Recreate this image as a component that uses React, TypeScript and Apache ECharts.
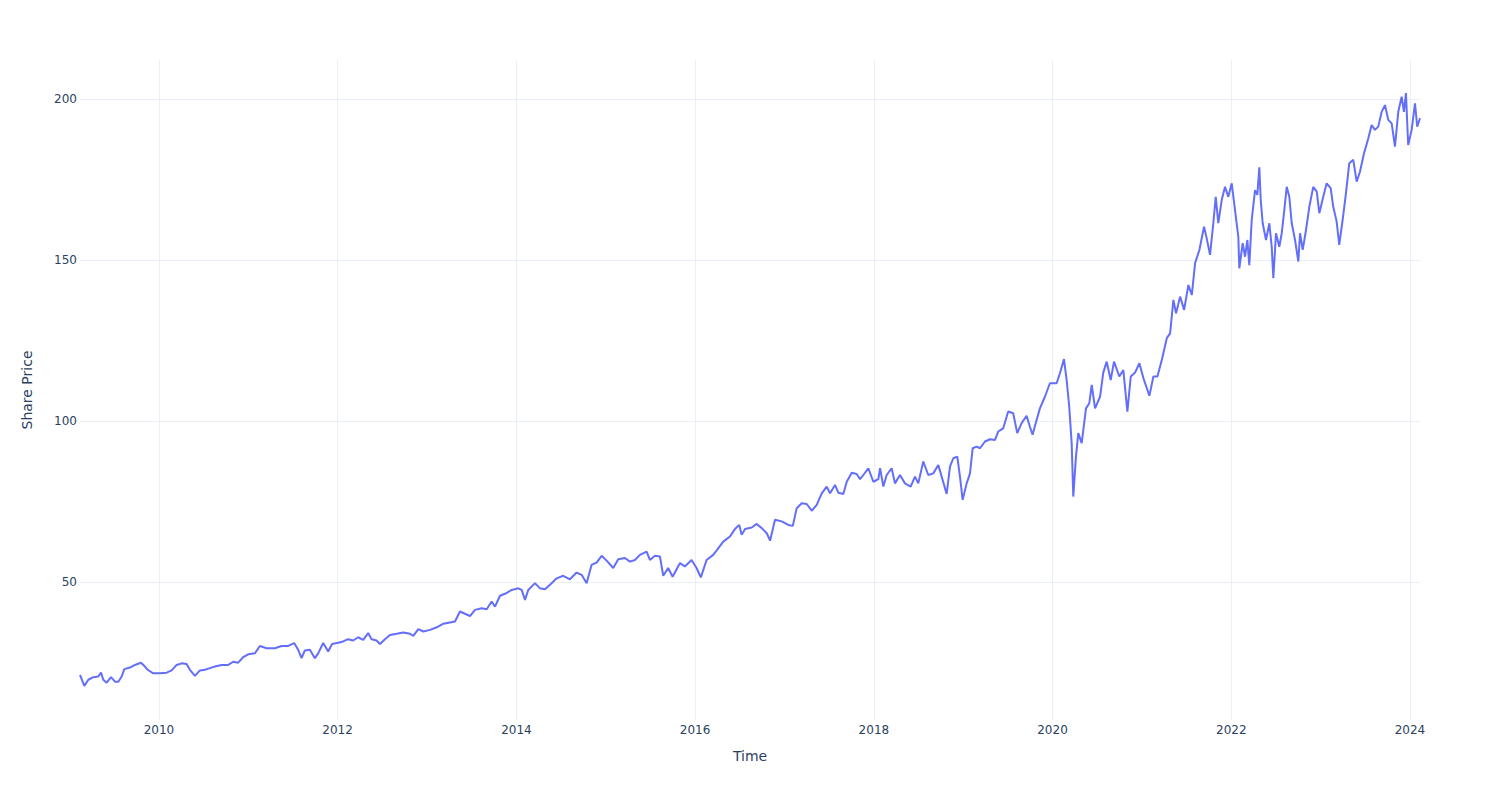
import React, { useEffect, useRef } from "react";
import * as echarts from "echarts";

// Time in fractional years
const TIME = [
  2009.116, 2009.164, 2009.209, 2009.265, 2009.321, 2009.351, 2009.377, 2009.415, 2009.463, 2009.508,
  2009.545, 2009.583, 2009.612, 2009.675, 2009.731, 2009.799, 2009.843, 2009.874, 2009.936, 2010.011,
  2010.086, 2010.142, 2010.198, 2010.254, 2010.310, 2010.347, 2010.403, 2010.459, 2010.515, 2010.571,
  2010.627, 2010.702, 2010.776, 2010.831, 2010.887, 2010.943, 2010.999, 2011.074, 2011.130, 2011.205,
  2011.298, 2011.373, 2011.447, 2011.514, 2011.559, 2011.597, 2011.634, 2011.690, 2011.746, 2011.783,
  2011.839, 2011.895, 2011.939, 2012.006, 2012.062, 2012.118, 2012.174, 2012.230, 2012.286, 2012.342,
  2012.380, 2012.436, 2012.473, 2012.529, 2012.585, 2012.660, 2012.734, 2012.809, 2012.846, 2012.902,
  2012.958, 2013.033, 2013.108, 2013.182, 2013.256, 2013.312, 2013.368, 2013.424, 2013.480, 2013.536,
  2013.611, 2013.667, 2013.723, 2013.760, 2013.816, 2013.872, 2013.947, 2014.021, 2014.059, 2014.096,
  2014.133, 2014.208, 2014.264, 2014.320, 2014.376, 2014.451, 2014.524, 2014.599, 2014.674, 2014.730,
  2014.786, 2014.842, 2014.898, 2014.954, 2015.010, 2015.084, 2015.140, 2015.215, 2015.271, 2015.327,
  2015.383, 2015.458, 2015.495, 2015.551, 2015.607, 2015.644, 2015.699, 2015.749, 2015.830, 2015.886,
  2015.961, 2016.017, 2016.065, 2016.129, 2016.203, 2016.259, 2016.315, 2016.390, 2016.446, 2016.494,
  2016.521, 2016.558, 2016.633, 2016.689, 2016.745, 2016.801, 2016.838, 2016.893, 2016.968, 2017.042,
  2017.092, 2017.136, 2017.192, 2017.248, 2017.304, 2017.360, 2017.416, 2017.472, 2017.509, 2017.565,
  2017.602, 2017.658, 2017.696, 2017.752, 2017.808, 2017.845, 2017.882, 2017.938, 2017.994, 2018.050,
  2018.069, 2018.106, 2018.143, 2018.199, 2018.236, 2018.292, 2018.348, 2018.412, 2018.460, 2018.497,
  2018.553, 2018.609, 2018.665, 2018.721, 2018.759, 2018.815, 2018.852, 2018.889, 2018.934, 2018.964,
  2018.994, 2019.039, 2019.076, 2019.106, 2019.151, 2019.188, 2019.244, 2019.300, 2019.356, 2019.392,
  2019.448, 2019.504, 2019.560, 2019.605, 2019.654, 2019.710, 2019.747, 2019.777, 2019.822, 2019.859,
  2019.915, 2019.971, 2020.046, 2020.083, 2020.128, 2020.158, 2020.187, 2020.214, 2020.232, 2020.262,
  2020.288, 2020.326, 2020.374, 2020.411, 2020.438, 2020.475, 2020.531, 2020.567, 2020.605, 2020.650,
  2020.687, 2020.746, 2020.791, 2020.836, 2020.874, 2020.922, 2020.970, 2021.015, 2021.082, 2021.127,
  2021.172, 2021.221, 2021.277, 2021.314, 2021.351, 2021.381, 2021.426, 2021.471, 2021.519, 2021.557,
  2021.594, 2021.642, 2021.694, 2021.724, 2021.761, 2021.798, 2021.825, 2021.854, 2021.892, 2021.929,
  2021.966, 2022.004, 2022.041, 2022.078, 2022.089, 2022.127, 2022.153, 2022.179, 2022.201, 2022.228,
  2022.265, 2022.291, 2022.313, 2022.329, 2022.351, 2022.388, 2022.425, 2022.452, 2022.470, 2022.500,
  2022.537, 2022.564, 2022.589, 2022.620, 2022.649, 2022.676, 2022.713, 2022.750, 2022.769, 2022.799,
  2022.836, 2022.873, 2022.917, 2022.956, 2022.985, 2023.029, 2023.067, 2023.112, 2023.141, 2023.179,
  2023.208, 2023.246, 2023.283, 2023.320, 2023.365, 2023.403, 2023.440, 2023.485, 2023.533, 2023.571,
  2023.608, 2023.645, 2023.683, 2023.720, 2023.757, 2023.795, 2023.832, 2023.869, 2023.907, 2023.932,
  2023.955, 2023.980, 2024.019, 2024.056, 2024.081, 2024.112,
];

const PRICE = [
  21.1, 17.7, 19.6, 20.4, 20.6, 21.8, 19.6, 18.7, 20.4, 19.0,
  19.0, 20.6, 22.9, 23.4, 24.2, 24.9, 23.7, 22.7, 21.6, 21.6,
  21.8, 22.5, 24.2, 24.7, 24.5, 22.7, 20.8, 22.5, 22.7, 23.2,
  23.7, 24.2, 24.2, 25.2, 24.9, 26.6, 27.5, 27.8, 30.1, 29.4,
  29.4, 30.1, 30.1, 31.0, 28.9, 26.3, 28.7, 28.9, 26.3, 27.8,
  31.0, 28.4, 30.7, 31.1, 31.5, 32.2, 31.8, 32.8, 32.0, 34.1,
  32.2, 31.8, 30.7, 32.2, 33.5, 33.9, 34.3, 33.9, 33.2, 35.3,
  34.6, 35.1, 35.9, 37.0, 37.4, 37.7, 40.8, 40.1, 39.4, 41.3,
  41.8, 41.5, 43.9, 42.3, 45.7, 46.3, 47.5, 48.0, 47.5, 44.4,
  47.5, 49.6, 48.0, 47.7, 49.1, 51.1, 51.9, 50.8, 52.9, 52.2,
  49.6, 55.3, 56.0, 58.1, 56.6, 54.3, 57.0, 57.4, 56.3, 56.8,
  58.4, 59.4, 56.8, 58.1, 57.9, 51.9, 54.3, 51.6, 55.8, 54.8,
  56.8, 54.3, 51.4, 56.8, 58.4, 60.4, 62.5, 64.1, 66.4, 67.7,
  64.6, 66.4, 66.9, 68.0, 66.7, 65.1, 62.8, 69.3, 68.8, 67.7,
  67.4, 72.9, 74.4, 74.2, 72.1, 73.9, 77.5, 79.6, 77.5, 80.1,
  77.7, 77.3, 81.1, 83.9, 83.5, 81.9, 83.2, 85.3, 81.1, 81.9,
  85.3, 79.6, 83.2, 85.3, 80.6, 83.2, 80.6, 79.6, 82.7, 80.6,
  87.4, 83.2, 83.7, 86.3, 82.7, 77.3, 85.8, 88.4, 88.9, 82.7,
  75.5, 80.6, 83.7, 91.5, 92.0, 91.5, 93.6, 94.3, 94.1, 96.7,
  97.7, 102.9, 102.4, 96.2, 99.3, 101.6, 98.2, 95.7, 100.3, 103.9,
  107.5, 111.7, 111.7, 114.8, 119.2, 112.7, 104.4, 93.1, 76.5, 88.9,
  96.2, 93.1, 103.9, 105.5, 111.2, 103.9, 107.5, 115.0, 118.4, 112.7,
  118.4, 113.8, 115.8, 102.9, 113.8, 115.0, 117.9, 113.3, 107.8, 113.8,
  113.8, 118.9, 125.7, 127.2, 137.6, 133.4, 138.6, 134.5, 142.2, 139.1,
  149.0, 153.1, 160.3, 156.7, 151.6, 161.4, 169.6, 161.4, 168.6, 172.7,
  169.6, 173.8, 165.5, 157.2, 147.4, 155.2, 151.0, 156.2, 148.4, 162.4,
  171.7, 170.2, 178.8, 168.6, 161.4, 156.2, 161.4, 154.1, 144.3, 158.3,
  154.1, 158.3, 164.5, 172.7, 169.6, 161.4, 156.2, 149.5, 158.3, 153.1,
  159.3, 166.5, 172.7, 171.2, 164.5, 169.6, 173.8, 172.3, 166.5, 161.9,
  154.7, 162.4, 170.7, 180.0, 181.1, 174.3, 177.4, 183.1, 187.7, 191.9,
  190.4, 191.4, 196.0, 198.1, 193.5, 192.4, 185.2, 196.0, 200.7, 196.0,
  201.8, 185.7, 190.4, 198.6, 191.4, 194.0,
];

const X_TICK_YEARS = [2010, 2012, 2014, 2016, 2018, 2020, 2022, 2024];
const Y_TICKS = [50, 100, 150, 200];
const Y_RANGE = [7.1, 212.1];

const X_TITLE = "Time";
const Y_TITLE = "Share Price";

const FONT = "'DejaVu Sans', Verdana, Arial, sans-serif";
const TEXT_COLOR = "#2a3f5f";
const GRID_COLOR = "#EBF0F8";
const LINE_COLOR = "#636efa";

function yearToMs(y: number): number {
  const yr = Math.floor(y);
  const start = Date.UTC(yr, 0, 1);
  const end = Date.UTC(yr + 1, 0, 1);
  return start + (y - yr) * (end - start);
}

export default function App() {
  const ref = useRef<HTMLDivElement>(null);

  useEffect(() => {
    if (!ref.current) return;
    const chart = echarts.init(ref.current, undefined, { renderer: "svg" });
    const data = TIME.map((t, i) => [yearToMs(t), PRICE[i]]);
    const xTicks = X_TICK_YEARS.map((y) => Date.UTC(y, 0, 1));

    chart.setOption({
      animation: false,
      backgroundColor: "#ffffff",
      grid: { left: 80, right: 80, top: 60, bottom: 80, containLabel: false },
      xAxis: {
        type: "value",
        scale: true,
        min: yearToMs(TIME[0]),
        max: yearToMs(TIME[TIME.length - 1]),
        name: X_TITLE,
        nameLocation: "middle",
        nameGap: 29,
        nameTextStyle: { color: TEXT_COLOR, fontSize: 14, fontFamily: FONT },
        axisLine: { show: false },
        axisTick: { show: false, customValues: xTicks },
        axisLabel: {
          customValues: xTicks,
          formatter: (v: number) => String(new Date(v).getUTCFullYear()),
          color: TEXT_COLOR,
          fontSize: 12,
          fontFamily: FONT,
          margin: 4,
        },
        splitLine: { show: true, lineStyle: { color: GRID_COLOR, width: 1 } },
      },
      yAxis: {
        type: "value",
        min: Y_RANGE[0],
        max: Y_RANGE[1],
        name: Y_TITLE,
        nameLocation: "middle",
        nameGap: 46,
        nameTextStyle: { color: TEXT_COLOR, fontSize: 14, fontFamily: FONT },
        axisLine: { show: false },
        axisTick: { show: false, customValues: Y_TICKS },
        axisLabel: {
          customValues: Y_TICKS,
          color: TEXT_COLOR,
          fontSize: 12,
          fontFamily: FONT,
          margin: 3,
        },
        splitLine: { show: true, lineStyle: { color: GRID_COLOR, width: 1 } },
      },
      series: [
        {
          type: "line",
          data,
          showSymbol: false,
          symbol: "none",
          lineStyle: { color: LINE_COLOR, width: 2 },
        },
      ],
    });

    return () => chart.dispose();
  }, []);

  return (
    <div
      ref={ref}
      style={{ position: "absolute", left: 0, top: 0, width: 1500, height: 800, background: "#fff" }}
    />
  );
}
